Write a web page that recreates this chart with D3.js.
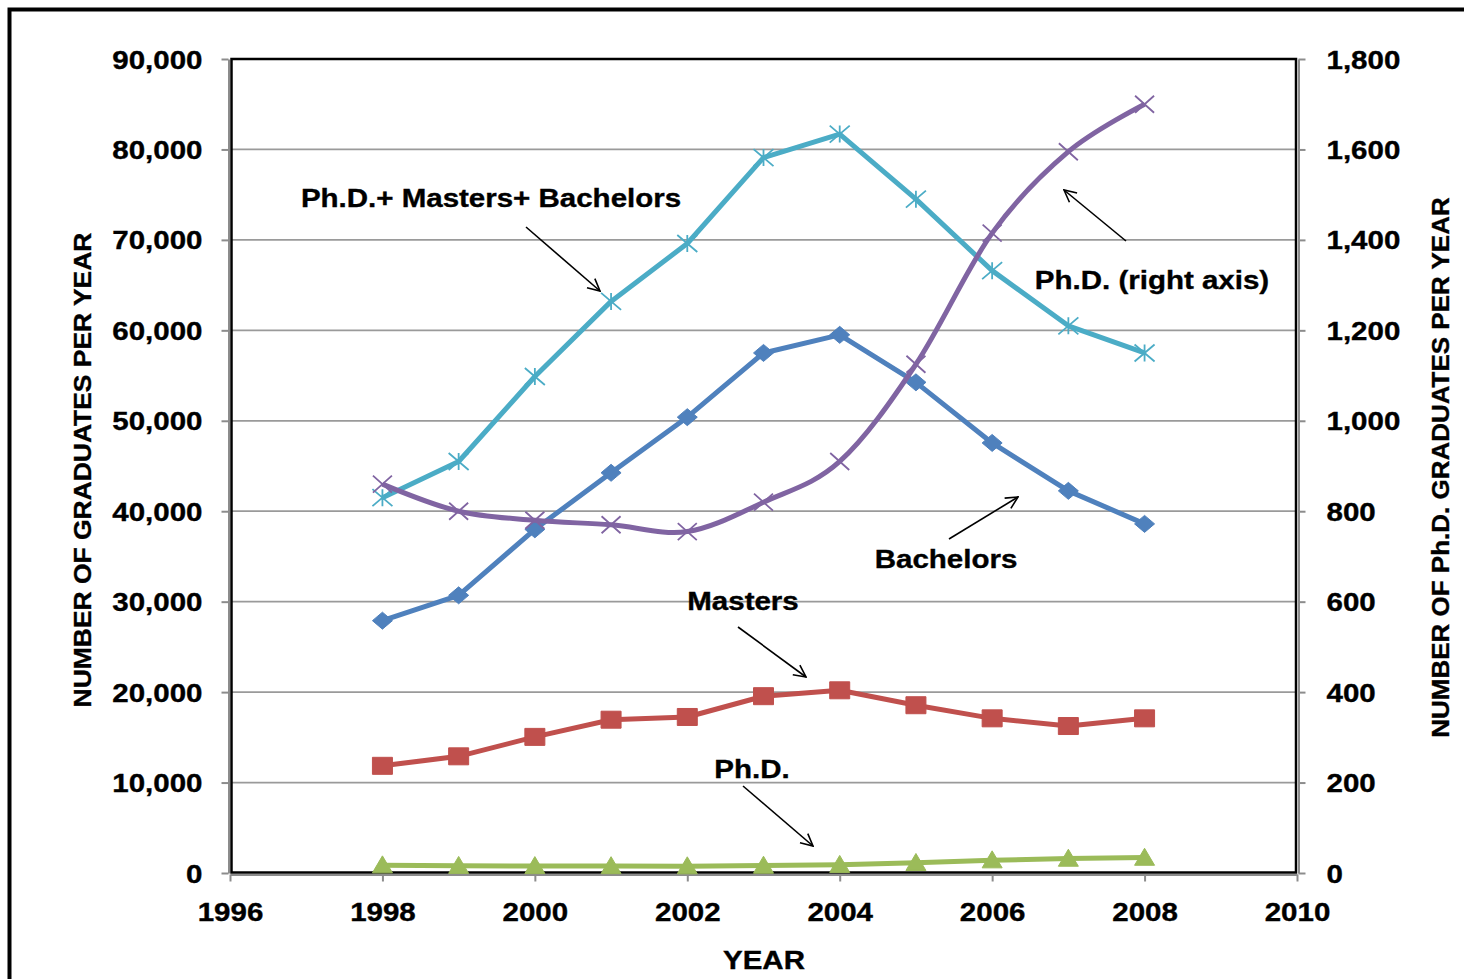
<!DOCTYPE html>
<html><head><meta charset="utf-8">
<script src="https://cdn.jsdelivr.net/npm/d3@7"></script>
<style>
body{margin:0;background:#fff}
svg{display:block}
text{font-family:"Liberation Sans",Arial,sans-serif;font-weight:bold;fill:#000;stroke:#000;stroke-width:0.35px}
</style>
</head><body>
<svg id="c" width="1464" height="979"></svg>
<script>
// ---- data ----
const years = [1998,1999,2000,2001,2002,2003,2004,2005,2006,2007,2008];
const bachelors = [27900,30700,38000,44250,50400,57500,59500,54250,47550,42250,38600];
const masters   = [11850,12900,15050,16950,17250,19550,20200,18550,17100,16250,17100];
const phd       = [860,800,780,770,755,820,910,1125,1415,1595,1700];
const total     = [41500,45500,54900,63200,69600,79100,81700,74500,66600,60500,57500];
const leftTicks  = [0,10000,20000,30000,40000,50000,60000,70000,80000,90000];
const rightTicks = [0,200,400,600,800,1000,1200,1400,1600,1800];
const xTicks = [1996,1998,2000,2002,2004,2006,2008,2010];
const leftTitle = "NUMBER OF GRADUATES PER YEAR";
const rightTitle = "NUMBER OF Ph.D. GRADUATES PER YEAR";
const xTitle = "YEAR";

const svg = d3.select("#c");
const SX = 1.18;
const x = d3.scaleLinear([1996,2010],[230,1297]);
const yL = d3.scaleLinear([0,90000],[873,59]);
const yR = d3.scaleLinear([0,1800],[873,59]);

// outer border
svg.append("rect").attr("x",9.5).attr("y",9.5).attr("width",1500).attr("height",1000)
  .attr("fill","none").attr("stroke","#000").attr("stroke-width",4);

// gridlines
svg.append("g").selectAll("line").data(leftTicks.slice(1,-1)).join("line")
  .attr("x1",231).attr("x2",1296).attr("y1",d=>yL(d)).attr("y2",d=>yL(d))
  .attr("stroke","#9a9a9a").attr("stroke-width",1.8);

const grey = "#8c8c8c";
function styleAxis(g){
  g.attr("font-size",null).attr("font-family",null);
  g.select(".domain").attr("stroke",grey).attr("stroke-width",2);
  g.selectAll(".tick line").attr("stroke",grey).attr("stroke-width",2);
  g.selectAll(".tick text").attr("x",null).attr("y",null).style("font-size","25px");
}
const axL = svg.append("g").attr("transform","translate(228.5,0)")
  .call(d3.axisLeft(yL).tickValues(leftTicks).tickSize(7).tickSizeOuter(0).tickFormat(d3.format(",")));
styleAxis(axL);
axL.selectAll(".tick text").attr("dy","0.36em").attr("transform",`translate(-26,0) scale(${SX},1)`);

const axR = svg.append("g").attr("transform","translate(1298.5,0)")
  .call(d3.axisRight(yR).tickValues(rightTicks).tickSize(7).tickSizeOuter(0).tickFormat(d3.format(",")));
styleAxis(axR);
axR.selectAll(".tick text").attr("dy","0.36em").attr("transform",`translate(28,0) scale(${SX},1)`);

const axB = svg.append("g").attr("transform","translate(0,874.5)")
  .call(d3.axisBottom(x).tickValues(xTicks).tickSize(7).tickSizeOuter(0).tickFormat(d3.format("d")));
styleAxis(axB);
axB.selectAll(".tick text").attr("dy","0.36em").attr("transform",`translate(0,37.5) scale(${SX},1)`);

// plot area border
svg.append("rect").attr("x",231.5).attr("y",59).attr("width",1064.5).attr("height",813.5)
  .attr("fill","none").attr("stroke","#000").attr("stroke-width",2.5);

// text helper
function label(t,px,py,size,anchor,rot,sx){
  svg.append("text").attr("text-anchor",anchor)
    .attr("transform",`translate(${px},${py}) rotate(${rot}) scale(${sx},1)`)
    .style("font-size",size+"px").text(t);
}
label(leftTitle,91,470,23,"middle",-90,1.15);
label(rightTitle,1449,467.5,23,"middle",-90,1.13);
label(xTitle,764,969,25,"middle",0,SX);

// marker shapes
const shapes = {
  diamond:(w,h)=>`M0,${-h/2}L${w/2},0L0,${h/2}L${-w/2},0Z`,
  square:(w,h)=>`M${-w/2},${-h/2}H${w/2}V${h/2}H${-w/2}Z`,
  triangle:(w,h)=>`M0,${-h*0.55}L${w/2},${h*0.45}L${-w/2},${h*0.45}Z`,
  x:(w,h)=>`M${-w/2},${-h/2}L${w/2},${h/2}M${w/2},${-h/2}L${-w/2},${h/2}`,
  star:(w,h)=>`M${-w/2},${-h/2}L${w/2},${h/2}M${w/2},${-h/2}L${-w/2},${h/2}M0,${-h/2}V${h/2}`
};
function series(vals,yScale,color,shape,w,h,filled,curve){
  const pts = years.map((yr,i)=>[x(yr),yScale(vals[i])]);
  svg.append("path").attr("d",d3.line().curve(curve||d3.curveLinear)(pts))
    .attr("fill","none").attr("stroke",color).attr("stroke-width",5)
    .attr("stroke-linejoin","round");
  svg.append("g").selectAll("path").data(pts).join("path")
    .attr("transform",d=>`translate(${d[0]},${d[1]})`)
    .attr("d",shapes[shape](w,h))
    .attr("fill",filled?color:"none").attr("stroke",color)
    .attr("stroke-width",filled?1:1.8);
}
series(bachelors,yL,"#4F81BD","diamond",20,17,true);
series(masters,yL,"#C0504D","square",20,17,true);
series(phd,yL,"#9BBB59","triangle",20,17,true);
series(total,yL,"#4BACC6","star",20,17,false);
series(phd,yR,"#8064A2","x",19,17,false,d3.curveCardinal.tension(0));

// annotations
const notes = [
  {t:"Ph.D.+ Masters+ Bachelors", x:491, y:207},
  {t:"Ph.D. (right axis)", x:1152, y:289},
  {t:"Bachelors", x:946, y:568},
  {t:"Masters", x:743, y:610},
  {t:"Ph.D.", x:752, y:778}
];
notes.forEach(n=>label(n.t,n.x,n.y,25,"middle",0,SX));

svg.append("defs").append("marker").attr("id","ah")
  .attr("viewBox","0 0 14 14").attr("refX",13).attr("refY",7)
  .attr("markerWidth",14).attr("markerHeight",14).attr("markerUnits","userSpaceOnUse")
  .attr("orient","auto")
  .append("path").attr("d","M1,1L13,7L1,13").attr("fill","none").attr("stroke","#000").attr("stroke-width",1.6);
const arrows = [
  [526,227,600,291],
  [1126,241,1064,190],
  [949,539,1018,497],
  [738,627,806,677],
  [743,786,813,846]
];
svg.append("g").selectAll("line").data(arrows).join("line")
  .attr("x1",d=>d[0]).attr("y1",d=>d[1]).attr("x2",d=>d[2]).attr("y2",d=>d[3])
  .attr("stroke","#000").attr("stroke-width",1.6).attr("marker-end","url(#ah)");
</script>
</body></html>
